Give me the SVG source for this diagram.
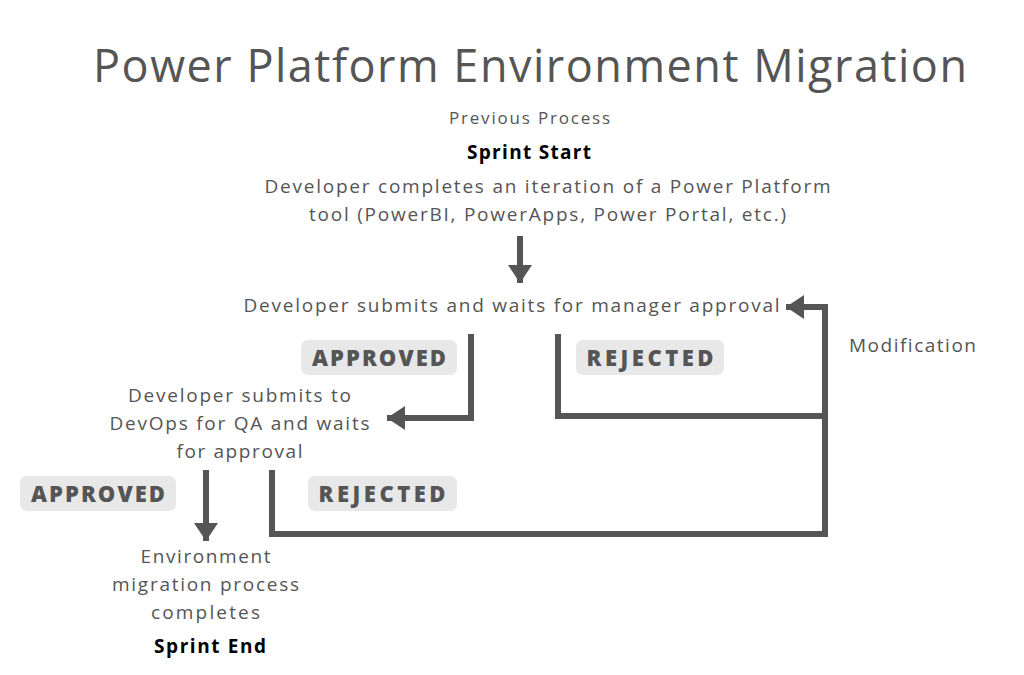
<svg xmlns="http://www.w3.org/2000/svg" width="1024" height="675" viewBox="0 0 1024 675">
<style>
.t{font-family:"Open Sans","Liberation Sans",sans-serif;font-size:19px;fill:#555;text-anchor:middle;letter-spacing:1px}
.b{font-family:"Open Sans","Liberation Sans",sans-serif;font-size:19px;font-weight:700;fill:#000;text-anchor:middle}
.badge rect{fill:#e8e8e8}
.badge text{font-family:"Open Sans","Liberation Sans",sans-serif;font-size:22px;font-weight:800;fill:#555;text-anchor:middle}
.c{fill:none;stroke:#555;stroke-width:6}
</style>
<defs>
<marker id="ah" markerUnits="userSpaceOnUse" markerWidth="26" markerHeight="26" viewBox="0 0 26 26" refX="20" refY="13" orient="auto">
<path d="M2 1 L20 13 L2 25 Z" fill="#555"/>
</marker>
</defs>
<rect width="1024" height="675" fill="#fff"/>
<text x="530" y="82" textLength="874" lengthAdjust="spacing" style="font-family:'Open Sans','Liberation Sans',sans-serif;font-size:45px;fill:#555;text-anchor:middle">Power Platform Environment Migration</text>
<g id="start">
<text class="t" x="530" y="124" textLength="162" lengthAdjust="spacing" style="font-size:17px">Previous Process</text>
<text class="b" x="529" y="159" textLength="124" lengthAdjust="spacing">Sprint Start</text>
<text class="t" x="548" y="193" textLength="567" lengthAdjust="spacing">Developer completes an iteration of a Power Platform</text>
<text class="t" x="548" y="221" textLength="478" lengthAdjust="spacing">tool (PowerBI, PowerApps, Power Portal, etc.)</text>
</g>
<g id="manager">
<text class="t" x="512" y="312" textLength="537" lengthAdjust="spacing">Developer submits and waits for manager approval</text>
</g>
<g id="devops">
<text class="t" x="240" y="402" textLength="224" lengthAdjust="spacing">Developer submits to</text>
<text class="t" x="240" y="430" textLength="261" lengthAdjust="spacing">DevOps for QA and waits</text>
<text class="t" x="240" y="458" textLength="127" lengthAdjust="spacing">for approval</text>
</g>
<g id="end">
<text class="t" x="206" y="563" textLength="131" lengthAdjust="spacing">Environment</text>
<text class="t" x="206" y="591" textLength="188" lengthAdjust="spacing">migration process</text>
<text class="t" x="206" y="619" textLength="110" lengthAdjust="spacing">completes</text>
<text class="b" x="210" y="653" textLength="112" lengthAdjust="spacing">Sprint End</text>
</g>
<g id="modification">
<text class="t" x="913" y="352" textLength="128" lengthAdjust="spacing">Modification</text>
</g>
<g id="badges">
<g class="badge" id="approved1"><rect x="301" y="340" width="156" height="35" rx="7"/><text x="379" y="366" textLength="134" lengthAdjust="spacing">APPROVED</text></g>
<g class="badge" id="rejected1"><rect x="576" y="340" width="148" height="35" rx="7"/><text x="650" y="366" textLength="127" lengthAdjust="spacing">REJECTED</text></g>
<g class="badge" id="approved2"><rect x="20" y="476" width="156" height="35" rx="7"/><text x="98" y="502" textLength="134" lengthAdjust="spacing">APPROVED</text></g>
<g class="badge" id="rejected2"><rect x="308" y="476" width="149" height="35" rx="7"/><text x="382" y="502" textLength="127" lengthAdjust="spacing">REJECTED</text></g>
</g>
<g id="connectors">
<path class="c" d="M520 236 V283" marker-end="url(#ah)"/>
<path class="c" d="M471 334 V418 H387" marker-end="url(#ah)"/>
<path class="c" d="M558 334 V416 H825"/>
<path class="c" d="M272 470 V534 H825 V307 H786" marker-end="url(#ah)"/>
<path class="c" d="M206 470 V541" marker-end="url(#ah)"/>
</g>
</svg>
